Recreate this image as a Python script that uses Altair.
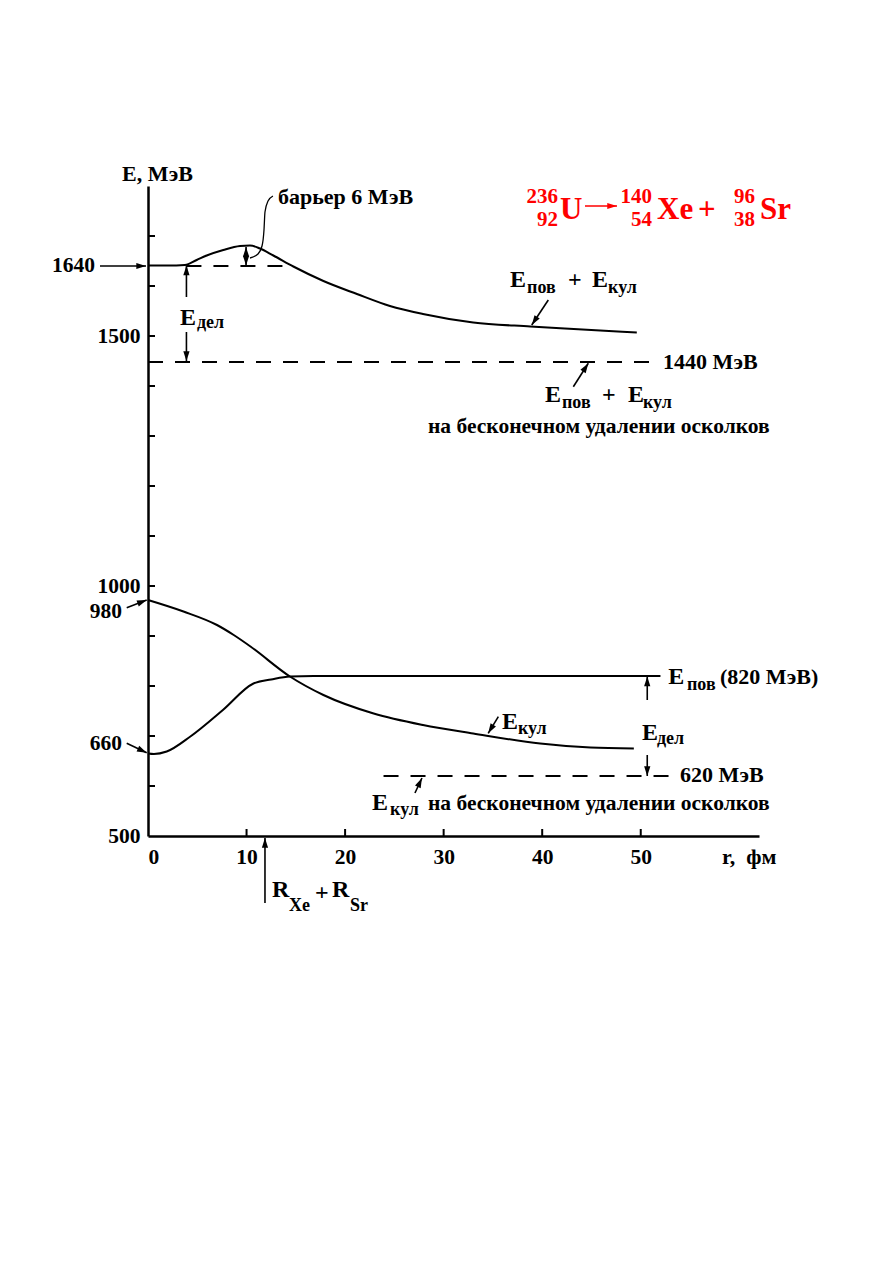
import math
import altair as alt
import pandas as pd

# ---------------- data ----------------
# E_пов + E_кул (upper curve)
r_sum = [0, 2, 3.75, 4.94, 5.96, 7.64, 9.34, 10.35, 11.36, 12.72, 14.75, 17.8, 21.2, 24.55, 27.9, 33.0, 38.8, 43.2, 49.6]
E_sum = [1641, 1641, 1642, 1652, 1661, 1672, 1680, 1681, 1675, 1661, 1639, 1610, 1584, 1560, 1544, 1527, 1519, 1514, 1507]
# E_кул
r_coul = [0, 3.6, 7.0, 8.7, 10.4, 14.4, 17.8, 22.9, 27.9, 33.0, 39.8, 44.9, 49.3]
E_coul = [972, 949, 922, 902, 879, 819, 782, 745, 722, 705, 685, 677, 675]
# E_пов
r_surf = [0, 0.6, 1.9, 4.3, 7.6, 10.7, 12.5, 14.4, 16.8, 30, 52]
E_surf = [665, 664, 669, 699, 752, 805, 813, 819, 820, 820, 820]
# leader line from "барьер 6 МэВ"
r_lead = [10.35, 11.16, 11.57, 11.77, 11.87, 12.18, 12.68]
E_lead = [1656, 1664, 1680, 1712, 1748, 1770, 1780]

# dashed levels: (r start, r end, E)
dash_r1 = [3.9, 0, 23.9]
dash_r2 = [14.7, 51.2, 53.3]
dash_E = [1640, 1448, 620]

# axis ticks
y_ticks = [600, 700, 800, 900, 1000, 1100, 1200, 1300, 1400, 1500, 1600, 1700]
x_ticks = [10, 20, 30, 40, 50]
y_labels = [500, 1000, 1500]
x_labels = [0, 10, 20, 30, 40, 50]

# arrows: tail (r1,E1) -> tip (r2,E2)
arr_r1 = [-4.87, -2.16, -2.16, 3.9, 3.9, 9.95, 9.95, 40.62, 43.16, 50.66, 50.66, 35.55, 27.09, 11.87, 44.34]
arr_E1 = [1640, 956.6, 685.4, 1578, 1508, 1660, 1660, 1572, 1398.6, 772, 662, 738.6, 586, 366, 1760]
arr_r2 = [-0.2, -0.13, -0.13, 3.9, 3.9, 9.95, 9.95, 38.94, 44.68, 50.66, 50.66, 34.52, 27.80, 11.87, 47.59]
arr_E2 = [1640, 972, 666.6, 1641, 1450, 1678, 1641, 1522, 1445.4, 819, 620, 705.4, 616, 496, 1760]
arr_col = ["black"] * 14 + ["red"]

NB = "\u00a0"
# text annotations, left aligned: text, r, E, size, colour
tl_text = ["E, МэВ", "барьер 6 МэВ", "1440 МэВ",
           "E", "пов", "+", "E", "кул",
           "E", "пов", "+", "E", "кул",
           "на бесконечном удалении осколков",
           "E", "дел",
           "E", "пов", "(820 МэВ)",
           "E", "дел", "620 МэВ",
           "E", "кул",
           "E", "кул", "на бесконечном удалении осколков",
           "r," + NB + NB + "фм",
           "R", "Xe", "+", "R", "Sr",
           "U", "Xe", "+", "Sr"]
tl_r = [-2.64, 13.19, 52.26,
        36.73, 38.46, 42.62, 45.05, 46.68,
        40.28, 42.01, 46.07, 48.71, 50.23,
        28.41,
        3.25, 4.97,
        52.8, 54.69, 58.04,
        50.13, 51.65, 53.98,
        35.92, 37.54,
        22.73, 24.56, 28.41,
        58.24,
        12.58, 14.31, 16.95, 18.67, 20.50,
        41.81, 51.65, 55.81, 62.10]
tl_E = [1824, 1778, 1448,
        1612, 1596, 1612, 1612, 1596,
        1382, 1366, 1382, 1382, 1366,
        1318,
        1536, 1526,
        818, 802, 818,
        706, 694, 622,
        728, 714,
        566, 552, 564,
        458,
        392, 360, 386, 392, 360,
        1752, 1752, 1752, 1752]
tl_size = [22, 22, 22,
           24, 18, 24, 24, 18,
           24, 18, 24, 24, 18,
           21.5,
           24, 18,
           24, 18, 22,
           24, 18, 22,
           24, 18,
           24, 18, 21.5,
           22,
           24, 18, 24, 24, 18,
           31, 31, 31, 31]
tl_col = ["black"] * 33 + ["red"] * 4

# text annotations, right aligned
tr_text = ["1640", "980", "660", "236", "92", "140", "54", "96", "38"]
tr_r = [-5.38, -2.64, -2.64, 41.60, 41.60, 51.14, 51.14, 61.59, 61.59]
tr_E = [1640, 948, 684, 1778, 1732, 1778, 1732, 1778, 1732]
tr_size = [21.5, 21.5, 21.5, 21, 21, 21, 21, 21, 21]
tr_col = ["black"] * 3 + ["red"] * 6

# ---------------- chart ----------------
W, H = 611, 650
XDOM, YDOM = [0, 62], [500, 1800]
PXR = W / (XDOM[1] - XDOM[0])
PXE = H / (YDOM[1] - YDOM[0])
FONT = "Liberation Serif"

xs = alt.Scale(domain=XDOM, nice=False, zero=False)
ys = alt.Scale(domain=YDOM, nice=False, zero=False)

curves = pd.DataFrame({
    "r": r_sum + r_coul + r_surf,
    "E": E_sum + E_coul + E_surf,
    "s": ["sum"] * len(r_sum) + ["coul"] * len(r_coul) + ["surf"] * len(r_surf),
})
lead = pd.DataFrame({"r": r_lead, "E": E_lead, "i": list(range(len(r_lead)))})
dashes = pd.DataFrame({"r1": dash_r1, "r2": dash_r2, "E": dash_E})
yt = pd.DataFrame({"E": y_ticks})
xt = pd.DataFrame({"r": x_ticks})

ang = []
for a, b, c, d in zip(arr_r1, arr_E1, arr_r2, arr_E2):
    dx = (c - a) * PXR
    dy = -(d - b) * PXE
    ang.append(math.degrees(math.atan2(dx, -dy)) % 360)
arrows = pd.DataFrame({"r1": arr_r1, "E1": arr_E1, "r2": arr_r2, "E2": arr_E2,
                       "c": arr_col, "ang": ang})
tl = pd.DataFrame({"t": tl_text, "r": tl_r, "E": tl_E, "sz": tl_size, "c": tl_col})
tr = pd.DataFrame({"t": tr_text, "r": tr_r, "E": tr_E, "sz": tr_size, "c": tr_col})

axis_common = dict(ticks=False, grid=False, title=None, format="d",
                   domainColor="black", domainWidth=2.5,
                   labelFont=FONT, labelFontWeight="bold",
                   labelFontSize=21.5, labelColor="black")
base_x = alt.X("r:Q", scale=xs, axis=alt.Axis(values=x_labels, labelPadding=10, **axis_common))
base_y = alt.Y("E:Q", scale=ys, axis=alt.Axis(values=y_labels, labelPadding=8, **axis_common))

curve_layer = alt.Chart(curves).mark_line(color="black", strokeWidth=2, interpolate="monotone").encode(
    x=base_x, y=base_y, detail="s:N")

lead_layer = alt.Chart(lead).mark_line(color="black", strokeWidth=1.3, interpolate="monotone").encode(
    x=alt.X("r:Q", scale=xs), y=alt.Y("E:Q", scale=ys), order="i:Q")

dash_layer = alt.Chart(dashes).mark_rule(color="black", strokeWidth=2, strokeDash=[15, 12]).encode(
    x=alt.X("r1:Q", scale=xs), x2="r2:Q", y=alt.Y("E:Q", scale=ys))

ytick_layer = alt.Chart(yt).mark_rule(color="black", strokeWidth=2).encode(
    y=alt.Y("E:Q", scale=ys), x=alt.value(0), x2=alt.value(7))
xtick_layer = alt.Chart(xt).mark_rule(color="black", strokeWidth=2).encode(
    x=alt.X("r:Q", scale=xs), y=alt.value(H), y2=alt.value(H - 7))

shaft_layer = alt.Chart(arrows).mark_rule(strokeWidth=1.6).encode(
    x=alt.X("r1:Q", scale=xs), y=alt.Y("E1:Q", scale=ys), x2="r2:Q", y2="E2:Q",
    color=alt.Color("c:N", scale=None))
head_layer = alt.Chart(arrows).mark_point(
    shape="M0,0L0.32,1L-0.32,1Z", filled=True, size=380, opacity=1, strokeWidth=0).encode(
    x=alt.X("r2:Q", scale=xs), y=alt.Y("E2:Q", scale=ys),
    angle=alt.Angle("ang:Q", scale=None), color=alt.Color("c:N", scale=None))

text_left = alt.Chart(tl).mark_text(align="left", baseline="middle", font=FONT, fontWeight="bold").encode(
    x=alt.X("r:Q", scale=xs), y=alt.Y("E:Q", scale=ys), text="t:N",
    size=alt.Size("sz:Q", scale=None), color=alt.Color("c:N", scale=None))
text_right = alt.Chart(tr).mark_text(align="right", baseline="middle", font=FONT, fontWeight="bold").encode(
    x=alt.X("r:Q", scale=xs), y=alt.Y("E:Q", scale=ys), text="t:N",
    size=alt.Size("sz:Q", scale=None), color=alt.Color("c:N", scale=None))

chart = alt.layer(
    curve_layer, lead_layer, dash_layer, ytick_layer, xtick_layer,
    shaft_layer, head_layer, text_left, text_right
).properties(
    width=W, height=H,
    autosize=alt.AutoSizeParams(type="none"),
    padding={"left": 140, "top": 178, "right": 120, "bottom": 150},
    background="white",
).configure_view(stroke=None)

chart.save("out.html", embed_options={"renderer": "svg", "actions": False})
